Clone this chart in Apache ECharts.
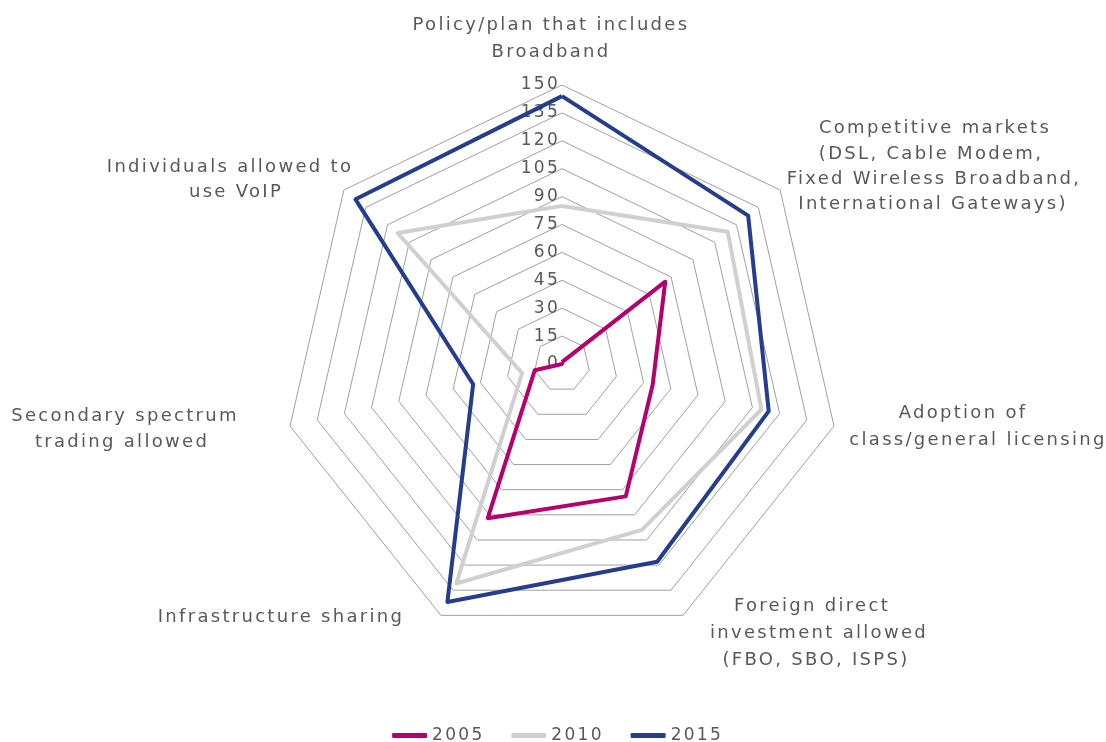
<!DOCTYPE html>
<html>
<head>
<meta charset="utf-8">
<script src="https://cdn.jsdelivr.net/npm/echarts@6/dist/echarts.min.js"></script>
<style>
html,body{margin:0;padding:0;background:#fff;}
#chart{width:1106px;height:742px;}
</style>
</head>
<body>
<div id="chart"></div>
<script>
// ---- data ----
const indicators = [
  'Policy/plan that includes Broadband',
  'Competitive markets (DSL, Cable Modem, Fixed Wireless Broadband, International Gateways)',
  'Adoption of class/general licensing',
  'Foreign direct investment allowed (FBO, SBO, ISPS)',
  'Infrastructure sharing',
  'Secondary spectrum trading allowed',
  'Individuals allowed to use VoIP'
];
const indicatorLines = [
  ['Policy/plan that includes', 'Broadband'],
  ['Competitive markets', '(DSL, Cable Modem,', 'Fixed Wireless Broadband,', 'International Gateways)'],
  ['Adoption of', 'class/general licensing'],
  ['Foreign direct', 'investment allowed', '(FBO, SBO, ISPS)'],
  ['Infrastructure sharing'],
  ['Secondary spectrum', 'trading allowed'],
  ['Individuals allowed to', 'use VoIP']
];
const seriesNames = ['2005', '2010', '2015'];
const values2005 = [1, 71, 50, 79, 92, 15, 0];
const values2010 = [85, 114, 110, 99, 131, 22, 113];
const values2015 = [144, 128, 114, 118, 142, 49, 142];
const axisMin = 0, axisMax = 150, axisStep = 15;

// ---- layout (label placement: [centerX, centerY] per line) ----
const labelLayout = [
  [[551, 25], [551, 52]],
  [[935, 128], [931, 154], [934, 179], [933, 204]],
  [[963, 413], [978, 440]],
  [[812, 606], [819, 633], [816, 660]],
  [[281, 617]],
  [[125, 416], [122, 442]],
  [[230, 167], [236, 192]]
];
const colors = ['#B5006E', '#D0D0D0', '#253D8F'];
const textColor = '#595959';
const fontFamily = '"DejaVu Sans", sans-serif';
const fontSize = 18;
const letterSpacing = '2.3px';

// wide letter spacing like the original (applied when text is painted)
(function () {
  const proto = CanvasRenderingContext2D.prototype;
  const orig = proto.fillText;
  proto.fillText = function () {
    if ('letterSpacing' in this) this.letterSpacing = letterSpacing;
    return orig.apply(this, arguments);
  };
})();

// ECharts radar runs counterclockwise; reorder so axes run clockwise from top
const order = [0, 6, 5, 4, 3, 2, 1];
const reorder = arr => order.map(i => arr[i]);

const indicatorOpt = reorder(indicators).map((name, k) => {
  const o = { name: name, min: axisMin, max: axisMax };
  if (k === 0) o.axisLabel = { show: true };
  return o;
});

const graphics = [];
indicatorLines.forEach((lines, i) => {
  lines.forEach((t, j) => {
    const p = labelLayout[i][j];
    graphics.push({
      type: 'text', x: p[0], y: p[1],
      style: { text: t, fill: textColor, font: fontSize + 'px ' + fontFamily,
               textAlign: 'center', textVerticalAlign: 'middle' }
    });
  });
});

const chart = echarts.init(document.getElementById('chart'), null, { renderer: 'canvas' });
chart.setOption({
  backgroundColor: '#ffffff',
  animation: false,
  color: colors,
  legend: {
    data: seriesNames,
    top: 722,
    left: 'center',
    icon: 'roundRect',
    itemWidth: 35,
    itemHeight: 5,
    itemGap: 36,
    textStyle: { color: textColor, fontSize: 17, fontFamily: fontFamily }
  },
  radar: {
    center: [562, 364],
    radius: 279,
    startAngle: 90,
    shape: 'polygon',
    splitNumber: (axisMax - axisMin) / axisStep,
    indicator: indicatorOpt,
    axisName: { show: false },
    axisLine: { show: false },
    axisTick: { show: false },
    axisLabel: { show: false, color: textColor, fontSize: 17, fontFamily: fontFamily, margin: 2 },
    splitLine: { lineStyle: { color: '#a0a0a0', width: 1 } },
    splitArea: { show: false }
  },
  graphic: graphics,
  series: [{
    type: 'radar',
    symbol: 'none',
    data: [
      { name: seriesNames[0], value: reorder(values2005), lineStyle: { color: colors[0], width: 4 }, itemStyle: { color: colors[0] } },
      { name: seriesNames[1], value: reorder(values2010), lineStyle: { color: colors[1], width: 4 }, itemStyle: { color: colors[1] } },
      { name: seriesNames[2], value: reorder(values2015), lineStyle: { color: colors[2], width: 4 }, itemStyle: { color: colors[2] } }
    ]
  }]
});
</script>
</body>
</html>
